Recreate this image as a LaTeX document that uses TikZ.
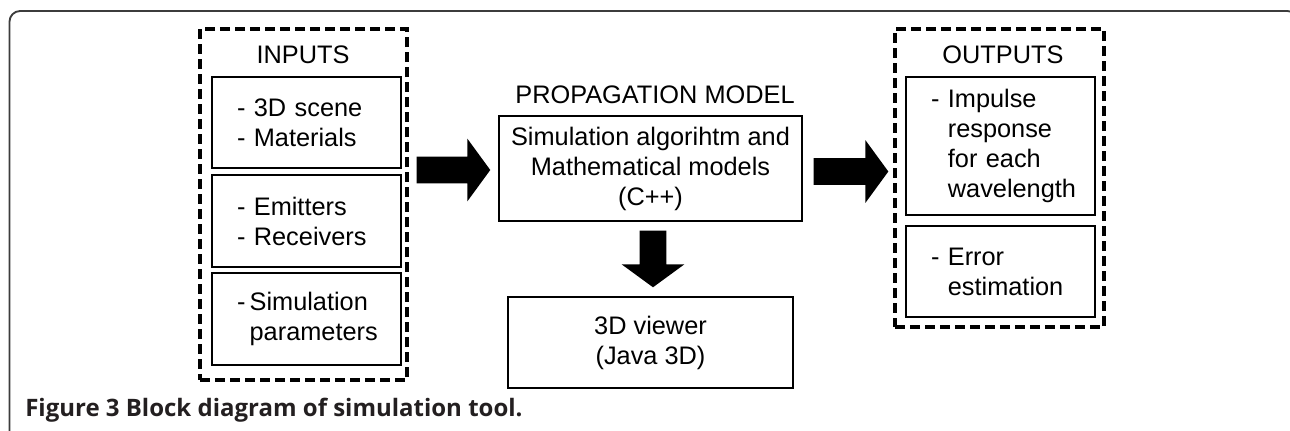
\documentclass[tikz,border=0pt]{standalone}
\usepackage{fontspec}
\setmainfont{Liberation Sans}
\newfontfamily\capfont{Open Sans}
\usetikzlibrary{calc}
\definecolor{framegray}{RGB}{60,60,60}
\definecolor{capblack}{RGB}{35,31,32}

% fat block arrow between two named points
\newcommand{\fatarrow}[2]{%
	\coordinate (fa-h) at ($(#2)!17.25pt!(#1)$);
	\fill ($(#1)!10.1pt!90:(#2)$) -- ($(fa-h)!10.1pt!90:(#2)$) -- ($(fa-h)!23.6pt!90:(#2)$) -- (#2)
		-- ($(fa-h)!23.6pt!-90:(#2)$) -- ($(fa-h)!10.1pt!-90:(#2)$) -- ($(#1)!10.1pt!-90:(#2)$) -- cycle;
}
\newcommand{\hang}{\phantom{- }}

\begin{document}
\begin{tikzpicture}[x=0.75pt,y=0.75pt,yscale=-1,xscale=1,
	every node/.style={font=\fontsize{19}{22.5}\selectfont},
	group/.style={draw, line width=2.5pt, dash pattern=on 7.5pt off 3.75pt, minimum width=#1},
	item/.style={draw, line width=1.1pt, minimum width=189*0.75pt, text width=189*0.75pt, inner xsep=0pt,
		align=left, execute at begin node={\leftskip=18.75pt}},
	block/.style={draw, line width=1.1pt, align=center},
	title/.style={inner sep=0pt}]
	\useasboundingbox (0,0) rectangle (1290,430);

	% frame and caption
	\draw [framegray, line width=1.4pt, rounded corners=8] (9.5,440) -- (9.5,11) -- (1298,11) -- (1298,440);
	\node [anchor=base west, inner sep=0pt, text=capblack] (caption) at (25,416) {\capfont\bfseries\fontsize{18}{20}\selectfont Figure 3 Block diagram of simulation tool.};

	% inputs
	\node [group=207*0.75pt, minimum height=351*0.75pt] (inputs) at (303.5,204.5) {};
	\node [title] (intitle) at (303,55) {INPUTS};
	\node [item, minimum height=91*0.75pt] (in1) at (306.5,122.5) {- 3D scene\\- Materials};
	\node [item, minimum height=92*0.75pt] (in2) at (306.5,221) {- Emitters\\- Receivers};
	\node [item, minimum height=92*0.75pt] (in3) at (306.5,319) {-\,Simulation\\\phantom{-\,}parameters};

	% propagation model
	\node [title] (proptitle) at (655,95) {PROPAGATION MODEL};
	\node [block, minimum width=303*0.75pt, minimum height=105*0.75pt] (prop) at (650.5,168.5) {Simulation algorihtm and\\Mathematical models\\(C++)};
	\node [block, minimum width=285*0.75pt, minimum height=91*0.75pt] (viewer) at (650.5,342.5) {3D viewer\\(Java 3D)};

	% outputs
	\node [group=209*0.75pt, minimum height=298*0.75pt] (outputs) at (999.5,178) {};
	\node [title] (outtitle) at (1003,55) {OUTPUTS};
	\node [item, minimum height=138*0.75pt] (out1) at (1000.5,146) {- Impulse\\\hang response\\\hang for each\\\hang wavelength};
	\node [item, minimum height=91*0.75pt] (out2) at (1000.5,271.5) {- Error\\\hang estimation};

	% arrows
	\coordinate (a1s) at ($(inputs.east |- prop.west)+(8,1.5)$);
	\coordinate (a1e) at ($(prop.west)+(-8,1.5)$);
	\coordinate (a2s) at ($(prop.east)+(11,3)$);
	\coordinate (a2e) at ($(outputs.west |- prop.east)+(-5,3)$);
	\coordinate (a3s) at ($(prop.south)+(2.5,9)$);
	\coordinate (a3e) at ($(viewer.north)+(2.5,-9)$);
	\fatarrow{a1s}{a1e}
	\fatarrow{a2s}{a2e}
	\fatarrow{a3s}{a3e}
\end{tikzpicture}
\end{document}
